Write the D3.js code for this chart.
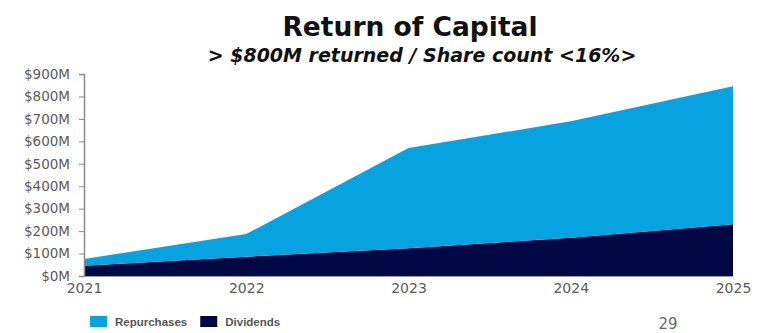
<!DOCTYPE html>
<html>
<head>
<meta charset="utf-8">
<script src="https://cdn.jsdelivr.net/npm/d3@7/dist/d3.min.js"></script>
<style>
  html, body { margin: 0; padding: 0; background: #fff; }
  svg { display: block; }
  text { font-family: "DejaVu Sans", "Liberation Sans", Arial, sans-serif; }
</style>
</head>
<body>
<svg id="chart" width="767" height="333"></svg>
<script>
// Return of capital by year, $M
const years = [2021, 2022, 2023, 2024, 2025];
const dividends = [46, 86, 124, 170, 231];
const repurchases = [30, 101, 446, 519, 614];
const yTicks = [0, 100, 200, 300, 400, 500, 600, 700, 800, 900];
const seriesNames = ["Dividends", "Repurchases"];
const legendOrder = ["Repurchases", "Dividends"];
const colors = { Repurchases: "#07a3e1", Dividends: "#020843" };

const svg = d3.select("#chart");
const margin = { left: 84, right: 34, top: 74, bottom: 57 };
const W = 767, H = 333;

const x = d3.scaleLinear().domain([years[0], years[years.length - 1]]).range([margin.left, W - margin.right]);
const y = d3.scaleLinear().domain([0, 900]).range([H - margin.bottom, margin.top]);

const rows = years.map((yr, i) => ({ year: yr, Dividends: dividends[i], Repurchases: repurchases[i] }));
const stacked = d3.stack().keys(seriesNames)(rows);

const area = d3.area()
  .x(d => x(d.data.year))
  .y0(d => y(d[0]))
  .y1(d => y(d[1]));

svg.append("g").selectAll("path")
  .data(stacked)
  .join("path")
  .attr("d", area)
  .attr("fill", d => colors[d.key]);

// y axis
const yAxis = svg.append("g")
  .attr("transform", `translate(${margin.left},0)`)
  .call(d3.axisLeft(y).tickValues(yTicks).tickFormat(d => `$${d}M`).tickSize(5).tickPadding(9));
yAxis.select(".domain").attr("stroke", "#8a8a8a").attr("stroke-width", 1.5);
yAxis.selectAll(".tick line").attr("stroke", "#8a8a8a");
yAxis.selectAll(".tick text")
  .attr("fill", "#5a5a5a")
  .style("font-size", "13.5px")
  .style("font-family", "'DejaVu Sans', sans-serif");

// x axis
const xAxis = svg.append("g")
  .attr("transform", `translate(0,${H - margin.bottom})`)
  .call(d3.axisBottom(x).tickValues(years).tickFormat(d3.format("d")).tickSize(0).tickPadding(7));
xAxis.select(".domain").attr("stroke", "#9a9aa8").attr("stroke-width", 1);
xAxis.selectAll(".tick text")
  .attr("fill", "#5a5a5a")
  .style("font-size", "14px")
  .style("font-family", "'DejaVu Sans', sans-serif");

// titles
svg.append("text")
  .attr("x", 410).attr("y", 36)
  .attr("text-anchor", "middle")
  .style("font-size", "26.5px").style("font-weight", "bold")
  .attr("fill", "#111")
  .text("Return of Capital");

svg.append("text")
  .attr("x", 422).attr("y", 62)
  .attr("text-anchor", "middle")
  .style("font-size", "19px").style("font-weight", "bold").style("font-style", "italic")
  .attr("fill", "#111")
  .text("> $800M returned / Share count <16%>");

// legend
const legend = svg.append("g");
let lx = 90;
legendOrder.forEach(name => {
  legend.append("rect")
    .attr("x", lx).attr("y", 316)
    .attr("width", 17).attr("height", 11)
    .attr("fill", colors[name]);
  const t = legend.append("text")
    .attr("x", lx + 25).attr("y", 326)
    .style("font-size", "11.5px").style("font-weight", "bold")
    .style("font-family", "'Liberation Sans', Arial, sans-serif")
    .attr("fill", "#555")
    .text(name);
  lx += 25 + t.node().getComputedTextLength() + 13;
});

// slide number
svg.append("text")
  .attr("x", 668).attr("y", 329)
  .attr("text-anchor", "middle")
  .style("font-size", "15px")
  .attr("fill", "#666")
  .text("29");
</script>
</body>
</html>
